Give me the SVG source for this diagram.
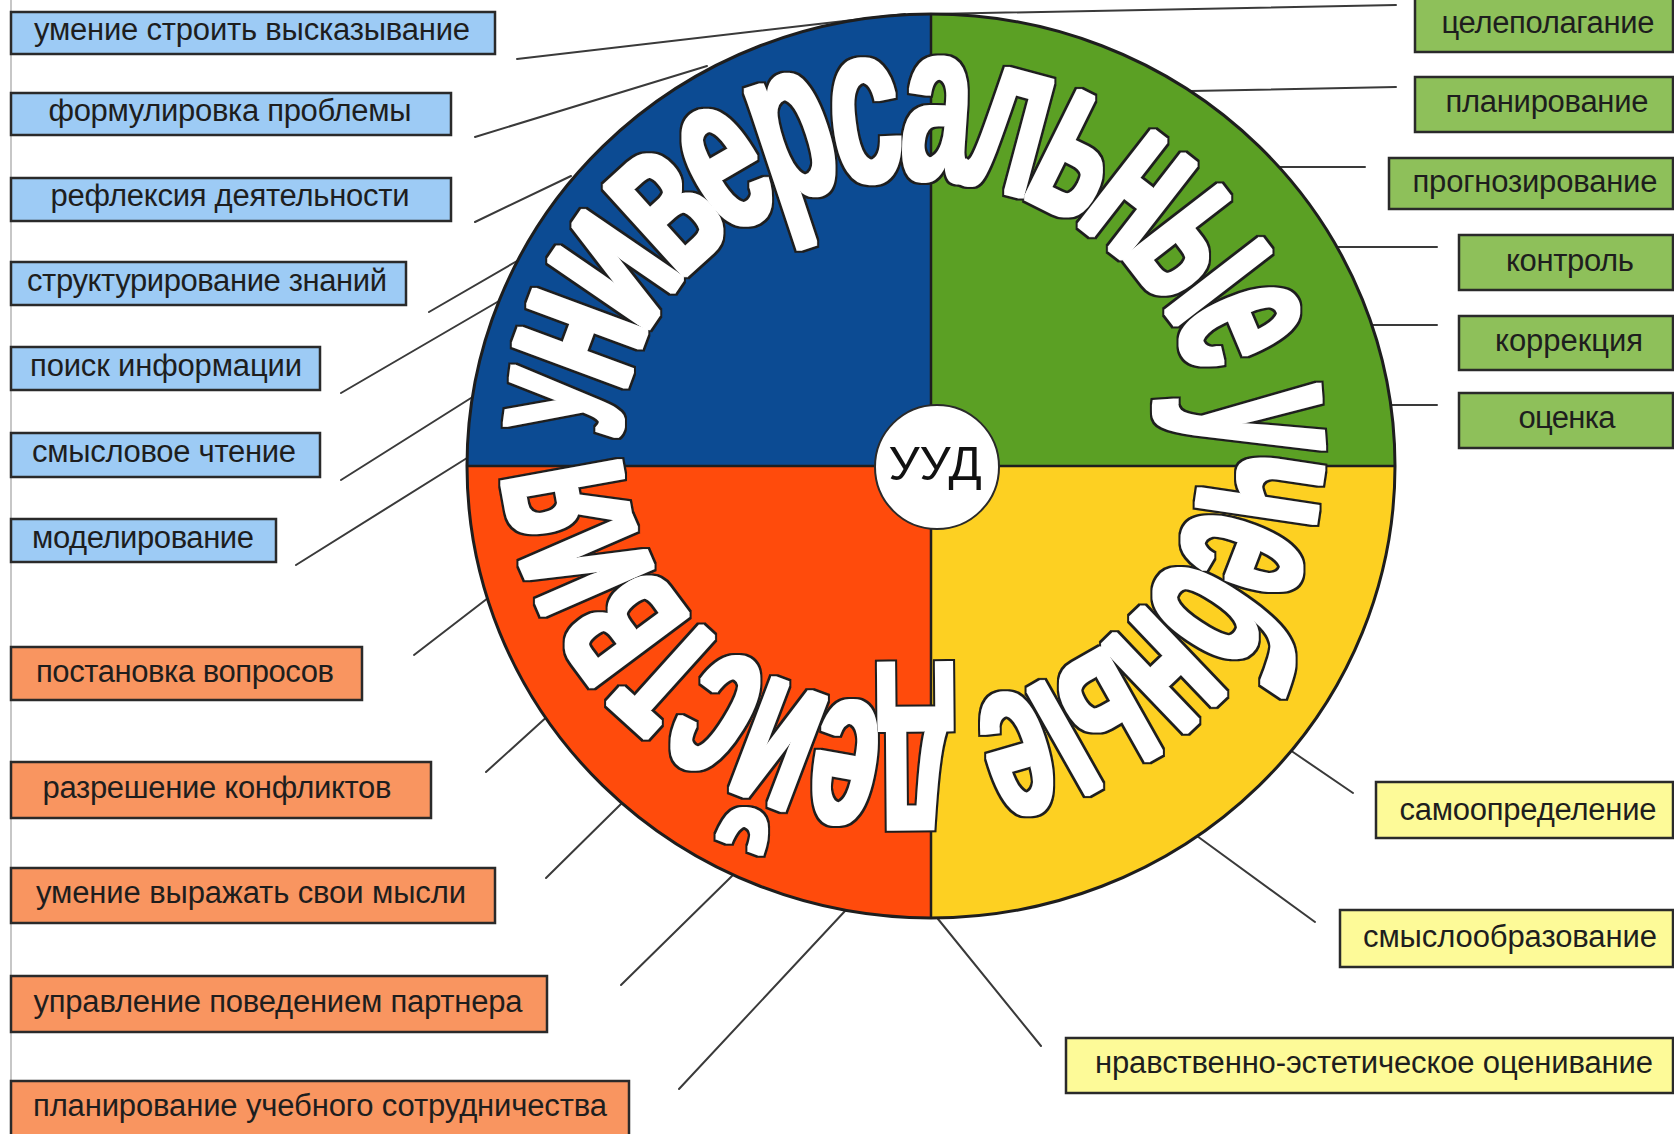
<svg xmlns="http://www.w3.org/2000/svg" width="1674" height="1134" viewBox="0 0 1674 1134">
<style>
.box{stroke:#2a2a2a;stroke-width:2.5}
.bl{fill:#9dcbf5}
.or{fill:#f99560}
.gr{fill:#8ec05a}
.ye{fill:#fdfa98}
.lbl{font-family:"Liberation Sans",Arial,sans-serif;font-size:31px;fill:#1e1e1e;text-anchor:middle}
.lead{stroke:#3a3a3a;stroke-width:2;fill:none;stroke-linecap:round}
.sec{stroke:none}
.arc{font-family:"Liberation Sans",Arial,sans-serif;font-weight:bold;font-size:227px;fill:#ffffff}
</style>
<defs>
<path id="textArc" d="M561.2,432.7 A351,325 0 0 1 1263,444 A351,325 0 0 1 561.5,461.0"/>
<filter id="fat" x="-5%" y="-5%" width="110%" height="110%" color-interpolation-filters="sRGB">
<feMorphology in="SourceAlpha" operator="dilate" radius="1.8" result="w"/>
<feMorphology in="SourceAlpha" operator="dilate" radius="3.8" result="d"/>
<feFlood flood-color="#1e1e1e" result="dc"/>
<feComposite in="dc" in2="d" operator="in" result="dark"/>
<feFlood flood-color="#ffffff" result="wc"/>
<feComposite in="wc" in2="w" operator="in" result="white"/>
<feMerge><feMergeNode in="dark"/><feMergeNode in="white"/></feMerge>
</filter>
</defs>
<rect x="0" y="0" width="1674" height="1134" fill="#ffffff"/>
<line x1="11" y1="0" x2="11" y2="1134" stroke="#b5b5b5" stroke-width="1.5"/>

<g id="connectors">
<line class="lead" x1="517" y1="59" x2="905" y2="14"/>
<line class="lead" x1="475" y1="137" x2="707" y2="66"/>
<line class="lead" x1="475" y1="222" x2="571" y2="176"/>
<line class="lead" x1="429" y1="312" x2="517" y2="261"/>
<line class="lead" x1="341" y1="393" x2="499" y2="301"/>
<line class="lead" x1="341" y1="480" x2="471" y2="398"/>
<line class="lead" x1="296" y1="565" x2="467" y2="458"/>
<line class="lead" x1="414" y1="655" x2="488" y2="598"/>
<line class="lead" x1="486" y1="772" x2="550" y2="714"/>
<line class="lead" x1="546" y1="878" x2="622" y2="803"/>
<line class="lead" x1="621" y1="985" x2="732" y2="876"/>
<line class="lead" x1="679" y1="1089" x2="845" y2="911"/>
<line class="lead" x1="1041" y1="1046" x2="938" y2="919"/>
<line class="lead" x1="1353" y1="793" x2="1290" y2="750"/>
<line class="lead" x1="1315" y1="922" x2="1197" y2="836"/>
<line class="lead" x1="933" y1="14" x2="1396" y2="5"/>
<line class="lead" x1="1191" y1="91" x2="1396" y2="87"/>
<line class="lead" x1="1279" y1="167" x2="1365" y2="167"/>
<line class="lead" x1="1337" y1="247" x2="1437" y2="247"/>
<line class="lead" x1="1372" y1="325" x2="1437" y2="325"/>
<line class="lead" x1="1391" y1="405" x2="1437" y2="405"/>
</g>

<g id="wheel">
<path class="sec" fill="#0c4b93" d="M931,466 L467,466 A464,452 0 0 1 931,14 Z"/>
<path class="sec" fill="#5ba024" d="M931,466 L931,14 A464,452 0 0 1 1395,466 Z"/>
<path class="sec" fill="#fdd022" d="M931,466 L1395,466 A464,452 0 0 1 931,918 Z"/>
<path class="sec" fill="#ff4b0c" d="M931,466 L931,918 A464,452 0 0 1 467,466 Z"/>
<line x1="467" y1="466" x2="1395" y2="466" stroke="#1e1e1e" stroke-width="2.5"/>
<line x1="931" y1="14" x2="931" y2="918" stroke="#1e1e1e" stroke-width="2.5"/>
<ellipse cx="931" cy="466" rx="464" ry="452" fill="none" stroke="#1e1e1e" stroke-width="3"/>
<text class="arc" filter="url(#fat)"><textPath href="#textArc" startOffset="0" textLength="581" lengthAdjust="spacingAndGlyphs"><tspan dy="60"><tspan font-size="168">У</tspan>ниверса</tspan></textPath><textPath href="#textArc" startOffset="581" textLength="414" lengthAdjust="spacingAndGlyphs"><tspan dy="60">льные </tspan></textPath><textPath href="#textArc" startOffset="995" textLength="546" lengthAdjust="spacingAndGlyphs"><tspan dy="60">учебные </tspan></textPath><textPath href="#textArc" startOffset="1541" textLength="552" lengthAdjust="spacingAndGlyphs"><tspan dy="60">действия</tspan></textPath></text>
</g>

<g id="center">
<circle cx="937" cy="467" r="62" fill="#ffffff" stroke="#2a2a2a" stroke-width="2"/>
<text x="935" y="480" font-family="Liberation Sans, Arial, sans-serif" font-size="49" fill="#111111" text-anchor="middle">УУД</text>
</g>

<g id="n-b1"><rect class="box bl" x="11" y="12" width="484" height="42"/><text class="lbl" x="252" y="40" textLength="436">умение строить высказывание</text></g>
<g id="n-b2"><rect class="box bl" x="11" y="93" width="440" height="42"/><text class="lbl" x="230" y="121" textLength="363">формулировка проблемы</text></g>
<g id="n-b3"><rect class="box bl" x="11" y="178" width="440" height="43"/><text class="lbl" x="230" y="206" textLength="359">рефлексия деятельности</text></g>
<g id="n-b4"><rect class="box bl" x="11" y="262" width="395" height="43"/><text class="lbl" x="207" y="291" textLength="360">структурирование знаний</text></g>
<g id="n-b5"><rect class="box bl" x="11" y="347" width="309" height="43"/><text class="lbl" x="166" y="376" textLength="272">поиск информации</text></g>
<g id="n-b6"><rect class="box bl" x="11" y="433" width="309" height="44"/><text class="lbl" x="164" y="462" textLength="264">смысловое чтение</text></g>
<g id="n-b7"><rect class="box bl" x="11" y="519" width="265" height="43"/><text class="lbl" x="143" y="548" textLength="222">моделирование</text></g>

<g id="n-o1"><rect class="box or" x="11" y="647" width="351" height="53"/><text class="lbl" x="185" y="682" textLength="298">постановка вопросов</text></g>
<g id="n-o2"><rect class="box or" x="11" y="762" width="420" height="56"/><text class="lbl" x="217" y="798" textLength="349">разрешение конфликтов</text></g>
<g id="n-o3"><rect class="box or" x="11" y="868" width="484" height="55"/><text class="lbl" x="251" y="903" textLength="430">умение выражать свои мысли</text></g>
<g id="n-o4"><rect class="box or" x="11" y="976" width="536" height="56"/><text class="lbl" x="278" y="1012" textLength="489">управление поведением партнера</text></g>
<g id="n-o5"><rect class="box or" x="11" y="1081" width="618" height="56"/><text class="lbl" x="320" y="1116" textLength="574">планирование учебного сотрудничества</text></g>

<g id="n-g1"><rect class="box gr" x="1415" y="-2" width="258" height="54"/><text class="lbl" x="1548" y="33" textLength="213">целеполагание</text></g>
<g id="n-g2"><rect class="box gr" x="1415" y="77" width="258" height="55"/><text class="lbl" x="1547" y="112" textLength="203">планирование</text></g>
<g id="n-g3"><rect class="box gr" x="1389" y="158" width="284" height="51"/><text class="lbl" x="1535" y="192" textLength="245">прогнозирование</text></g>
<g id="n-g4"><rect class="box gr" x="1459" y="235" width="214" height="55"/><text class="lbl" x="1570" y="271" textLength="128">контроль</text></g>
<g id="n-g5"><rect class="box gr" x="1459" y="316" width="214" height="54"/><text class="lbl" x="1569" y="351" textLength="148">коррекция</text></g>
<g id="n-g6"><rect class="box gr" x="1459" y="393" width="214" height="55"/><text class="lbl" x="1567" y="428" textLength="97">оценка</text></g>

<g id="n-y1"><rect class="box ye" x="1376" y="782" width="297" height="56"/><text class="lbl" x="1528" y="820" textLength="257">самоопределение</text></g>
<g id="n-y2"><rect class="box ye" x="1340" y="910" width="333" height="57"/><text class="lbl" x="1510" y="947" textLength="294">смыслообразование</text></g>
<g id="n-y3"><rect class="box ye" x="1066" y="1038" width="607" height="55"/><text class="lbl" x="1374" y="1073" textLength="558">нравственно-эстетическое оценивание</text></g>
</svg>
